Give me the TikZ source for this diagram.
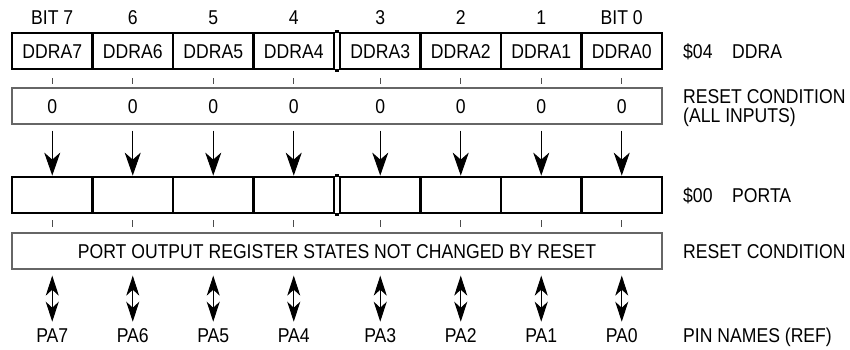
\documentclass[tikz,border=0pt]{standalone}
\usepackage{fontspec}
\setmainfont{Liberation Sans}[FakeStretch=0.88]
\usetikzlibrary{arrows.meta}
\begin{document}
\begin{tikzpicture}[x=1pt,y=-1pt,
  every node/.style={font=\fontsize{20}{23}\selectfont, inner sep=0pt, text height=14.2pt, text depth=0pt},
  regcell/.style={draw=black, line width=2.8pt, minimum width=80.5pt, minimum height=36pt},
  regline/.style={draw=black, line width=2.8pt},
  resetbox/.style={draw=black!60, line width=1.3pt, minimum width=650pt, minimum height=36pt},
  tickmark/.style={draw=black!70, line width=1pt},
  downarrow/.style={draw=black, line width=1pt, -{Stealth[length=23pt,width=16pt,inset=7pt]}},
  bidir/.style={draw=black, line width=1pt, {Stealth[length=20pt,width=13pt,inset=6pt]}-{Stealth[length=20pt,width=13pt,inset=6pt]}},
  lbl/.style={anchor=west}
]
\useasboundingbox (0,0) rectangle (850,349);

\foreach \b/\x/\t in {7/52.25/BIT 7, 6/132.75/6, 5/213.25/5, 4/293.75/4, 3/380.25/3, 2/460.75/2, 1/541.25/1, 0/621.75/BIT 0} {
  \node (t\b) at (\x,17) {\t};
  \node[regcell] (d\b) at (\x,51) {DDRA\b};
  \node[regcell] (p\b) at (\x,195) {};
  \node (pa\b) at (\x,335) {PA\b};
}
\draw[regline] (d4.north east) -- (d3.north west);
\draw[regline] (d4.south east) -- (d3.south west);
\draw[regline] (p4.north east) -- (p3.north west);
\draw[regline] (p4.south east) -- (p3.south west);

\node[resetbox] (r1) at (337,106) {};
\node[resetbox] (r2) at (337,251) {PORT OUTPUT REGISTER STATES NOT CHANGED BY RESET};

\foreach \b in {7,6,5,4,3,2,1,0} {
  \node (z\b) at (d\b |- r1) {0};
  \draw[tickmark] ([yshift=-8pt]d\b.south) -- ++(0,6);
  \draw[downarrow] ([yshift=-6pt]z\b |- r1.south) -- (p\b.north);
  \draw[tickmark] ([yshift=-6pt]p\b.south) -- ++(0,7);
  \draw[bidir] ([yshift=-6pt]pa\b |- r2.south) -- ([yshift=6pt]pa\b.north);
}

\node[lbl] (l1a) at (683,51) {\$04};
\node[lbl] (l1b) at (732,51) {DDRA};
\node[lbl] (l2) at (683,96) {RESET CONDITION};
\node[lbl] (l3) at (683,115) {(ALL INPUTS)};
\node[lbl] (l4a) at (683,195) {\$00};
\node[lbl] (l4b) at (732,195) {PORTA};
\node[lbl] (l5) at (683,251) {RESET CONDITION};
\node[lbl] (l6) at (683,335) {PIN NAMES (REF)};
\end{tikzpicture}
\end{document}
